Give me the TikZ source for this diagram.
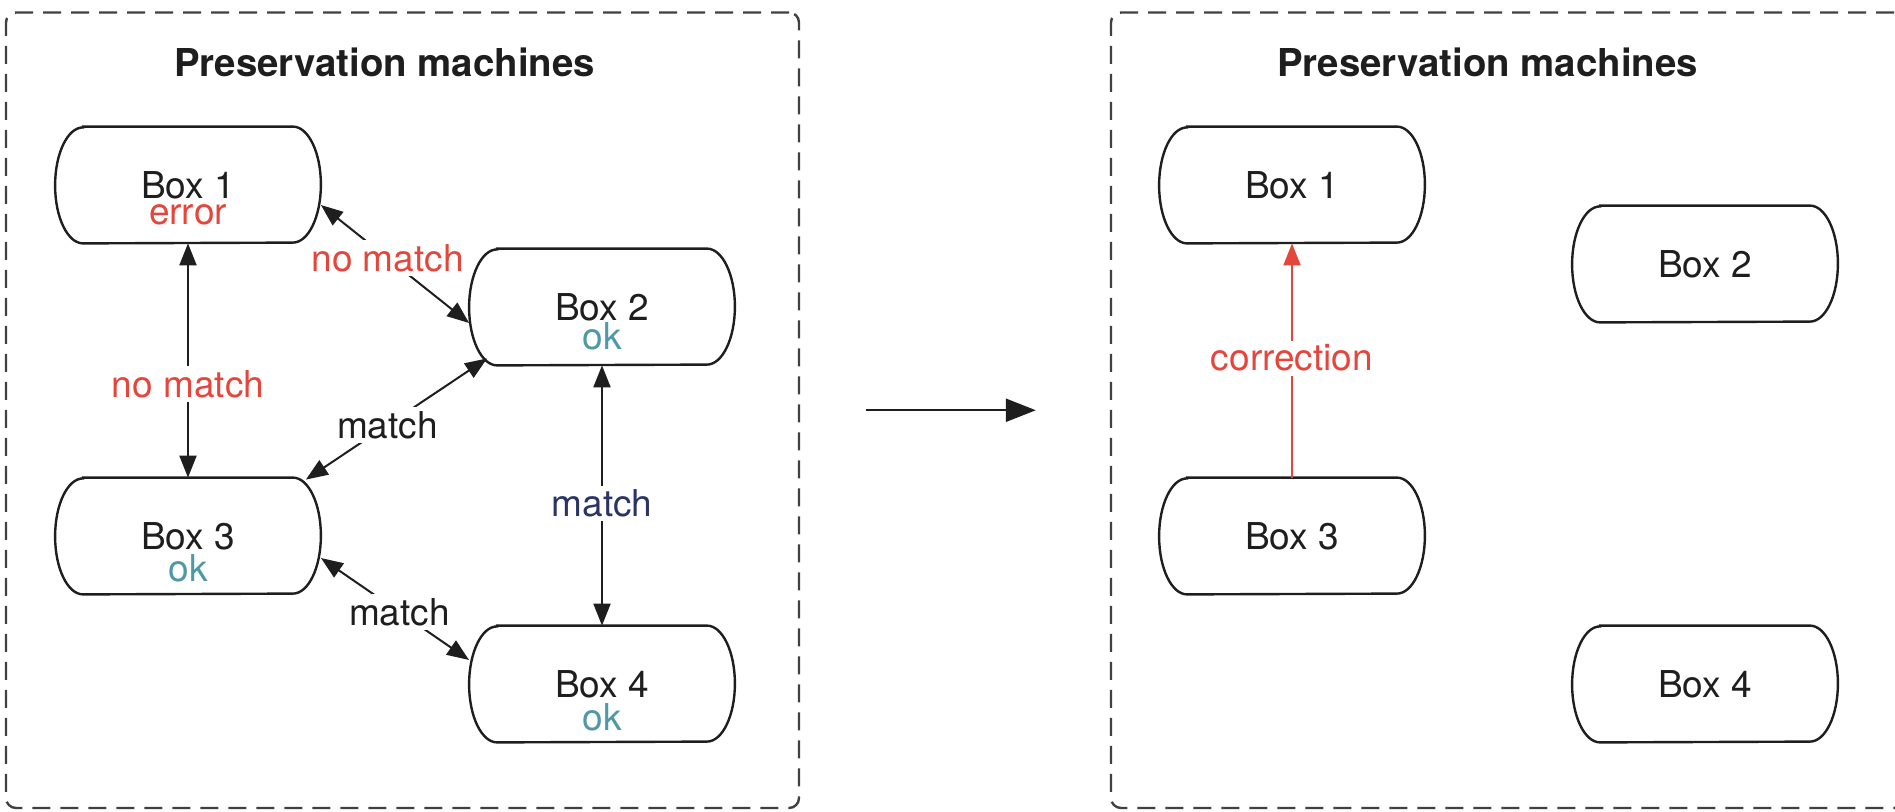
\documentclass[tikz,border=0pt]{standalone}
\usepackage{fontspec}
\setmainfont{TeX Gyre Heros}
\usetikzlibrary{arrows.meta}
\definecolor{errred}{HTML}{E5463B}
\definecolor{okteal}{HTML}{4F98A6}
\definecolor{matchnavy}{HTML}{2A3566}
\definecolor{ink}{HTML}{1E1E1E}
% outline of a machine: straight top and bottom, half-elliptic ends
\newcommand\pillbox[1]{%
  \draw[pilledge] ([xshift=14pt]#1.north west) -- ([xshift=-14pt]#1.north east)
    arc[start angle=90,end angle=-90,x radius=14pt,y radius=29pt]
    -- ([xshift=14pt]#1.south west)
    arc[start angle=270,end angle=90,x radius=14pt,y radius=29pt] -- cycle;}
\begin{document}
\begin{tikzpicture}[x=0.5pt,y=-0.5pt,
  every node/.style={font=\fontsize{18.5}{22}\selectfont, text=ink},
  machine/.style={minimum width=132.5pt, minimum height=58pt, inner sep=0pt},
  pilledge/.style={draw=ink, line width=1.2pt},
  status/.style={anchor=base, inner sep=0pt},
  panel/.style={draw=ink!85, line width=1.2pt, dash pattern=on 9pt off 5pt,
    rounded corners=5pt, minimum width=396.5pt, minimum height=397.75pt, inner sep=0pt},
  title/.style={font=\fontsize{19.2}{23}\selectfont\bfseries, anchor=base, inner sep=0pt},
  tip/.style={Triangle[length=11pt,width=8.5pt]},
  link/.style={draw=ink, line width=1pt, {Triangle[length=11pt,width=8.5pt]}-{Triangle[length=11pt,width=8.5pt]}},
  fixlink/.style={draw=errred, line width=0.9pt, -{Triangle[length=11pt,width=8.5pt]}},
  tag/.style={fill=white, inner sep=2pt},
]
\useasboundingbox (0,0) rectangle (1895,812);
\clip (0,0) rectangle (1895,812);

% the two groups of machines
\node[panel] (lp) at (402.5,410.25) {};
\node[panel] (rp) at (1507.5,410.25) {};
\node[title] (lt) at (384.5,77) {Preservation machines};
\node[title] (rt) at (1487.5,77) {Preservation machines};

% left group: machines compare their copies
\node[machine] (b1) at (188,185) {Box 1};
\node[machine] (b2) at (602,307) {Box 2};
\node[machine] (b3) at (188,536) {Box 3};
\node[machine] (b4) at (602,684) {Box 4};
\foreach \b in {b1,b2,b3,b4} {\pillbox{\b}}
\node[status, text=errred] (s1) at ([yshift=-20pt]b1.center) {error};
\node[status, text=okteal] (s2) at ([yshift=-21.5pt]b2.center) {ok};
\node[status, text=okteal] (s3) at ([yshift=-22.5pt]b3.center) {ok};
\node[status, text=okteal] (s4) at ([yshift=-23pt]b4.center) {ok};

\draw[link] ([yshift=-10pt]b1.east) -- node[tag, text=errred, pos=.45] {no match} ([yshift=-8pt]b2.west);
\draw[link] (b1.south) -- node[tag, text=errred, pos=.6] {no match} (b3.north);
\draw[link] ([xshift=9pt,yshift=3.5pt]b2.south west) -- node[tag, pos=.55] {match} ([xshift=-7.5pt,yshift=-1pt]b3.north east);
\draw[link] ([yshift=-11pt]b3.east) -- node[tag, pos=.53] {match} ([yshift=12pt]b4.west);
\draw[link] (b2.south) -- node[tag, text=matchnavy, pos=.53] {match} (b4.north);

% step from the left group to the right group
\draw[draw=ink, line width=1.2pt, -{Triangle[length=15pt,width=11.5pt]}]
  ([xshift=33pt]lp.east) -- ([xshift=-37pt]rp.west);

% right group: the faulty copy is repaired
\node[machine] (c1) at (1292,185) {Box 1};
\node[machine] (c2) at (1705,264) {Box 2};
\node[machine] (c3) at (1292,536) {Box 3};
\node[machine] (c4) at (1705,684) {Box 4};
\foreach \b in {c1,c2,c3,c4} {\pillbox{\b}}
\draw[fixlink] (c3.north) -- node[tag, text=errred, pos=.51] {correction} (c1.south);
\end{tikzpicture}
\end{document}
